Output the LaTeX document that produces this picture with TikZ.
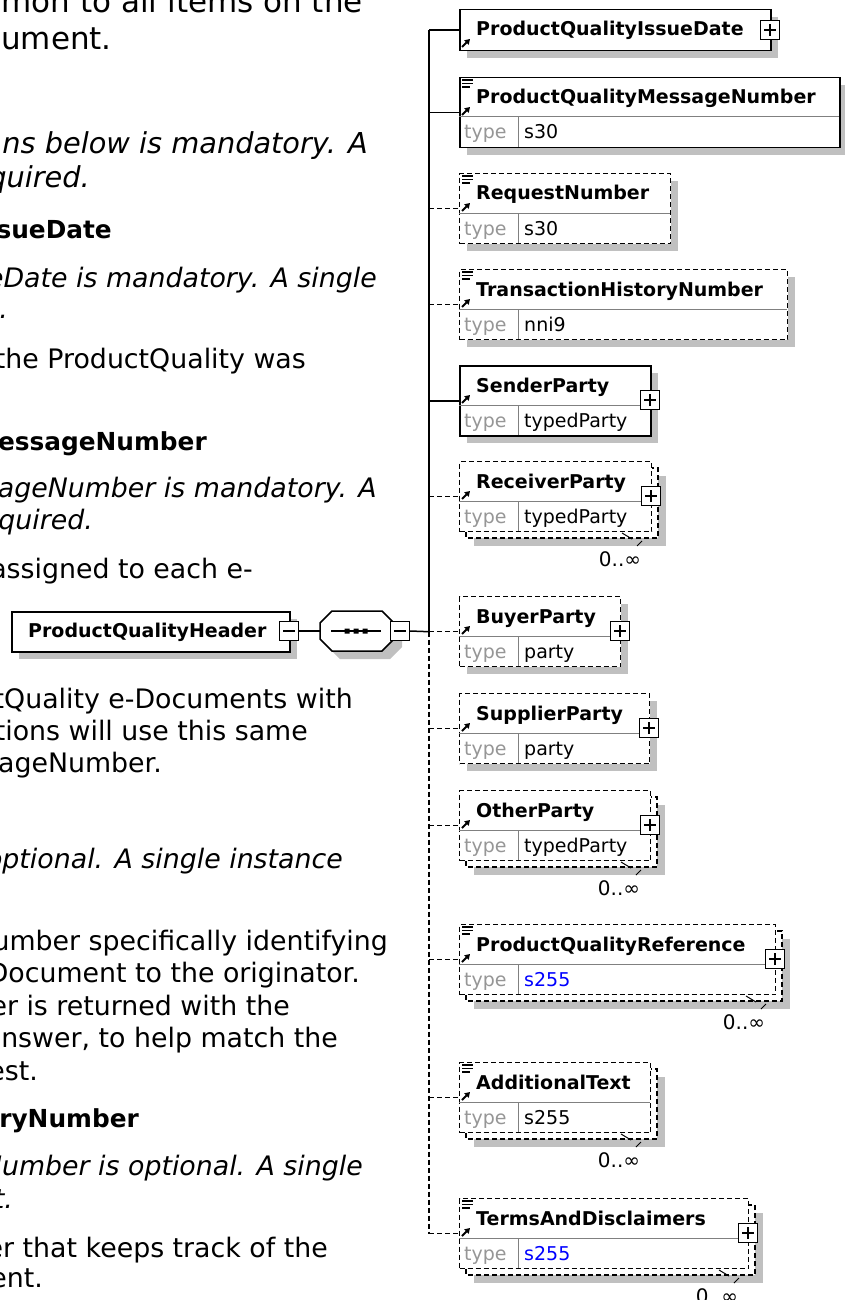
\documentclass[tikz,border=0pt]{standalone}
\usepackage{fontspec}
\setmainfont{DejaVu Sans}
\usetikzlibrary{arrows.meta}
\definecolor{shadowgray}{RGB}{192,192,192}
\definecolor{divgray}{RGB}{128,128,128}
\definecolor{typegray}{RGB}{150,150,150}
\definecolor{linkblue}{RGB}{0,0,255}
\tikzset{
  bodytext/.style={anchor=base east, inner sep=0pt, font=\fontsize{26.8}{30}\selectfont},
  ittext/.style={anchor=base east, inner sep=0pt, font=\fontsize{26.8}{30}\selectfont\itshape},
  bigittext/.style={anchor=base east, inner sep=0pt, font=\fontsize{28.8}{32}\selectfont\itshape},
  bftext/.style={anchor=base east, inner sep=0pt, font=\fontsize{24.8}{30}\selectfont\bfseries},
  bigtext/.style={anchor=base east, inner sep=0pt, font=\fontsize{31}{36}\selectfont},
  boxline/.style={line width=1.5pt},
  dashline/.style={line width=1.4pt, dash pattern=on 5pt off 3pt},
  ename/.style={anchor=base west, inner sep=0pt, font=\fontsize{19}{22}\selectfont\bfseries},
  etype/.style={anchor=base west, inner sep=0pt, font=\fontsize{19}{22}\selectfont, text=typegray},
  evalue/.style={anchor=base west, inner sep=0pt, font=\fontsize{19}{22}\selectfont},
  mult/.style={anchor=base, inner sep=0pt, font=\fontsize{20}{22}\selectfont},
  plusbox/.style={draw, fill=white, line width=1.3pt, minimum size=19pt, inner sep=0pt,
    path picture={\draw[line width=1.2pt] ([xshift=-6pt]path picture bounding box.center) -- ([xshift=6pt]path picture bounding box.center);
                  \draw[line width=1.2pt] ([yshift=-6pt]path picture bounding box.center) -- ([yshift=6pt]path picture bounding box.center);}},
  minusbox/.style={draw, fill=white, line width=1.3pt, minimum size=19pt, inner sep=0pt,
    path picture={\draw[line width=1.2pt] ([xshift=-6pt]path picture bounding box.center) -- ([xshift=6pt]path picture bounding box.center);}},
  reficon/.style={line width=2pt, -{Triangle[length=5pt,width=6pt]}},
}
% #1 top, #2 right, #3 offset
\newcommand\xsShadow[3]{\fill[shadowgray] (459+#3+8,#1+#3+8) rectangle (#2+#3+8,#1+#3+78);}
\newcommand\xsBack[2]{\draw[dashline, fill=white] (466,#1+7) rectangle (#2+7,#1+77);}
% #1 name, #2 top, #3 right, #4 border style, #5 label, #6 type value
\newcommand\xsElem[6]{%
  \node[#4, draw, fill=white, anchor=north west, minimum width=#3-459, minimum height=70, inner sep=0pt] (#1) at (459,#2) {};
  \draw[divgray, line width=1pt] (459,#2+40) -- (#3,#2+40) (518,#2+40) -- (518,#2+70);
  \node[ename] (#1-n) at (476,#2+27) {#5};
  \node[etype] (#1-t) at (464,#2+62) {type};
  \node[evalue] (#1-v) at (524,#2+62) {#6};
  \draw[reficon] (462,#2+38) -- (470,#2+30);
}
\newcommand\xsDoc[1]{\draw[line width=1.2pt] (462,#1+3) -- (473,#1+3) (462,#1+6.5) -- (473,#1+6.5) (462,#1+10) -- (470,#1+10);}
% #1 name, #2 top, #3 right
\newcommand\xsMult[3]{%
  \draw[line width=1pt] (#3+7-36,#2+72) -- (#3+7-26,#2+78) (#3+7-16,#2+80) -- (#3+7-21,#2+85);
  \node[mult] (#1-m) at (#3+7-38,#2+105) {0..∞};
}
\begin{document}
\begin{tikzpicture}[x=1pt,y=-1pt]
\useasboundingbox (0,0) rectangle (845,1300);
\fill[white] (0,0) rectangle (845,1300);

% ---------- left text ----------
\node[bigtext] (t1) at (363,13) {mon to all items on the};
\node[bigtext] (t2) at (112,50) {ument.};
\node[bigittext] (t3) at (368,154) {ns below is mandatory. A};
\node[bigittext] (t4) at (90,188) {quired.};
\node[bftext] (t5) at (112,238) {sueDate};
\node[ittext] (t6) at (377,287) {eDate is mandatory. A single};
\node[ittext] (t7) at (8,318) {.};
\node[bodytext] (t8) at (306,368) {the ProductQuality was};
\node[bftext] (t9) at (207,450) {essageNumber};
\node[ittext] (t10) at (377,497) {ageNumber is mandatory. A};
\node[ittext] (t11) at (93,529) {quired.};
\node[bodytext] (t12) at (253,578) {assigned to each e-};
\node[bodytext] (t13) at (353,708) {tQuality e-Documents with};
\node[bodytext] (t14) at (308,740) {tions will use this same};
\node[bodytext] (t15) at (162,772) {ageNumber.};
\node[ittext] (t16) at (343,868) {optional. A single instance};
\node[bodytext] (t17) at (388,950) {umber specifically identifying};
\node[bodytext] (t18) at (360,982) {Document to the originator.};
\node[bodytext] (t19) at (290,1015) {er is returned with the};
\node[bodytext] (t20) at (338,1047) {nswer, to help match the};
\node[bodytext] (t21) at (38,1080) {est.};
\node[bftext] (t22) at (139,1127) {ryNumber};
\node[ittext] (t23) at (363,1175) {Number is optional. A single};
\node[ittext] (t24) at (13,1208) {t.};
\node[bodytext] (t25) at (328,1257) {er that keeps track of the};
\node[bodytext] (t26) at (43,1287) {ent.};

% ---------- header and sequence ----------
\fill[shadowgray] (19,619) rectangle (297,659);
\node[boxline, draw, fill=white, anchor=north west, minimum width=278, minimum height=40, inner sep=0pt] (hdr) at (11,611) {};
\node[ename] (hdr-n) at (28,637) {ProductQualityHeader};
\node[minusbox] (hdrm) at (289,631) {};
\fill[shadowgray] (340,619) -- (390,619) -- (402,631) -- (402,647) -- (390,659) -- (340,659) -- (328,647) -- (328,631) -- cycle;
\draw[boxline, fill=white] (332,611) -- (382,611) -- (394,623) -- (394,639) -- (382,651) -- (332,651) -- (320,639) -- (320,623) -- cycle;
\coordinate (seqL) at (320,631);
\draw[line width=1.3pt] (331,631) -- (381,631);
\fill (344.5,628.5) rectangle (349.5,633.5) (353.5,628.5) rectangle (358.5,633.5) (362.5,628.5) rectangle (367.5,633.5);
\node[minusbox] (seqm) at (400,631) {};
\coordinate (tk) at (429,0);

% ---------- elements ----------
% IssueDate
\fill[shadowgray] (467,17) rectangle (778,58);
\node[boxline, draw, fill=white, anchor=north west, minimum width=311, minimum height=41, inner sep=0pt] (pqid) at (459,9) {};
\node[ename] (pqid-n) at (476,36) {ProductQualityIssueDate};
\draw[reficon] (462,47) -- (470,39);
\node[plusbox] (pqid-p) at (770,30) {};

% MessageNumber
\xsShadow{77}{839}{0}
\xsElem{pqmn}{77}{839}{boxline}{ProductQualityMessageNumber}{s30}
\xsDoc{77}

% RequestNumber
\xsShadow{173}{670}{0}
\xsElem{rqn}{173}{670}{dashline}{RequestNumber}{s30}
\xsDoc{173}

% TransactionHistoryNumber
\xsShadow{269}{787}{0}
\xsElem{thn}{269}{787}{dashline}{TransactionHistoryNumber}{nni9}
\xsDoc{269}

% SenderParty
\xsShadow{365}{650}{0}
\xsElem{sp}{365}{650}{boxline}{SenderParty}{typedParty}
\node[plusbox] (sp-p) at (650,400) {};

% ReceiverParty
\xsShadow{461}{651}{7}
\xsBack{461}{651}
\xsElem{rp}{461}{651}{dashline}{ReceiverParty}{typedParty}
\node[plusbox] (rp-p) at (651,496) {};
\xsMult{rp}{461}{651}

% BuyerParty
\xsShadow{596}{620}{0}
\xsElem{bp}{596}{620}{dashline}{BuyerParty}{party}
\node[plusbox] (bp-p) at (620,631) {};

% SupplierParty
\xsShadow{693}{649}{0}
\xsElem{sup}{693}{649}{dashline}{SupplierParty}{party}
\node[plusbox] (sup-p) at (649,728) {};

% OtherParty
\xsShadow{790}{650}{7}
\xsBack{790}{650}
\xsElem{op}{790}{650}{dashline}{OtherParty}{typedParty}
\node[plusbox] (op-p) at (650,825) {};
\xsMult{op}{790}{650}

% ProductQualityReference
\xsShadow{924}{775}{7}
\xsBack{924}{775}
\xsElem{pqr}{924}{775}{dashline}{ProductQualityReference}{\textcolor{linkblue}{s255}}
\xsDoc{924}
\node[plusbox] (pqr-p) at (775,959) {};
\xsMult{pqr}{924}{775}

% AdditionalText
\xsShadow{1062}{650}{7}
\xsBack{1062}{650}
\xsElem{at}{1062}{650}{dashline}{AdditionalText}{s255}
\xsDoc{1062}
\xsMult{at}{1062}{650}

% TermsAndDisclaimers
\xsShadow{1198}{748}{7}
\xsBack{1198}{748}
\xsElem{tad}{1198}{748}{dashline}{TermsAndDisclaimers}{\textcolor{linkblue}{s255}}
\xsDoc{1198}
\node[plusbox] (tad-p) at (748,1233) {};
\xsMult{tad}{1198}{748}

% ---------- connectors ----------
\draw[boxline] (hdrm.east) -- (seqL);
\draw[boxline] (seqm.east) -- (tk |- bp.west);
\draw[boxline] (tk |- pqid.west) -- (tk |- bp.west);
\draw[dashline] (tk |- bp.west) -- (tk |- tad.west);
\draw[boxline] (tk |- pqid.west) -- (pqid.west);
\draw[boxline] (tk |- pqmn.west) -- (pqmn.west);
\draw[dashline] (tk |- rqn.west) -- (rqn.west);
\draw[dashline] (tk |- thn.west) -- (thn.west);
\draw[boxline] (tk |- sp.west) -- (sp.west);
\draw[dashline] (tk |- rp.west) -- (rp.west);
\draw[dashline] (tk |- bp.west) -- (bp.west);
\draw[dashline] (tk |- sup.west) -- (sup.west);
\draw[dashline] (tk |- op.west) -- (op.west);
\draw[dashline] (tk |- pqr.west) -- (pqr.west);
\draw[dashline] (tk |- at.west) -- (at.west);
\draw[dashline] (tk |- tad.west) -- (tad.west);
\end{tikzpicture}
\end{document}
